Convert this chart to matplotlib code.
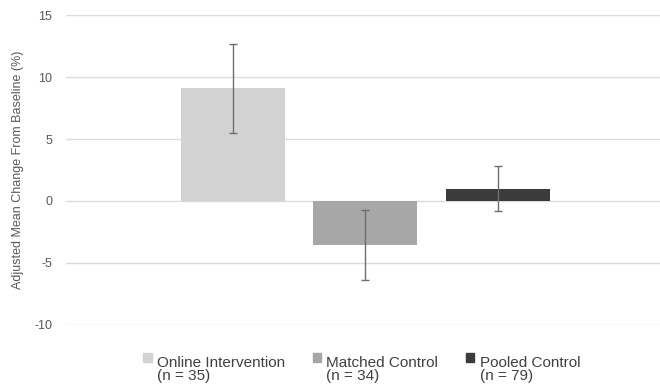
import matplotlib.pyplot as plt
import matplotlib.patches as mpatches
from matplotlib.legend_handler import HandlerPatch

plt.rcParams['font.family'] = ['Liberation Sans', 'DejaVu Sans']

groups = ['Online Intervention\n(n = 35)', 'Matched Control\n(n = 34)', 'Pooled Control\n(n = 79)']
means = [9.15, -3.55, 0.97]
err_low = [5.52, -6.40, -0.80]
err_high = [12.70, -0.73, 2.85]
colors = ['#d2d2d2', '#a7a7a7', '#3b3b3b']
yticks = [-10, -5, 0, 5, 10, 15]

fig = plt.figure(figsize=(6.6, 3.9), dpi=100)
ax = fig.add_axes([0.1, 0.1667, 0.9, 0.7948])

x = list(range(len(means)))
yerr = [[m - lo for m, lo in zip(means, err_low)],
        [hi - m for m, hi in zip(means, err_high)]]

ax.set_axisbelow(True)
ax.grid(axis='y', color='#dcdcdc', linewidth=1.0)
ax.bar(x, means, width=0.785, color=colors, zorder=2)
ax.errorbar(x, means, yerr=yerr, fmt='none', ecolor='#6e6e6e',
            elinewidth=1.0, capsize=3, capthick=1.0, zorder=3)

ax.set_xlim(-1.257, 3.226)
ax.set_ylim(-10, 15)
ax.set_yticks(yticks)
ax.set_yticklabels([str(t) for t in yticks])
ax.set_xticks([])
ax.tick_params(axis='y', length=0, pad=10, labelsize=9, labelcolor='#595959')
for s in ax.spines.values():
    s.set_visible(False)

ax.set_ylabel('Adjusted Mean Change From Baseline (%)', fontsize=9,
              color='#595959', labelpad=7)


# square marker next to the first line of the two-line label
def top_square(legend, orig_handle, xdescent, ydescent, width, height, fontsize):
    return mpatches.Rectangle((-xdescent, -ydescent + 0.8 * fontsize), width, height)


handles = [mpatches.Patch(color=c) for c in colors]
leg = fig.legend(handles, groups, loc='center', bbox_to_anchor=(0.548, 0.052),
                 ncol=3, frameon=False, fontsize=11, labelcolor='#404040',
                 handlelength=0.55, handleheight=0.55, handletextpad=0.35,
                 columnspacing=1.8,
                 handler_map={mpatches.Patch: HandlerPatch(patch_func=top_square)})
for t in leg.get_texts():
    t.set_linespacing(0.95)

fig.savefig('out.png', dpi=100)
